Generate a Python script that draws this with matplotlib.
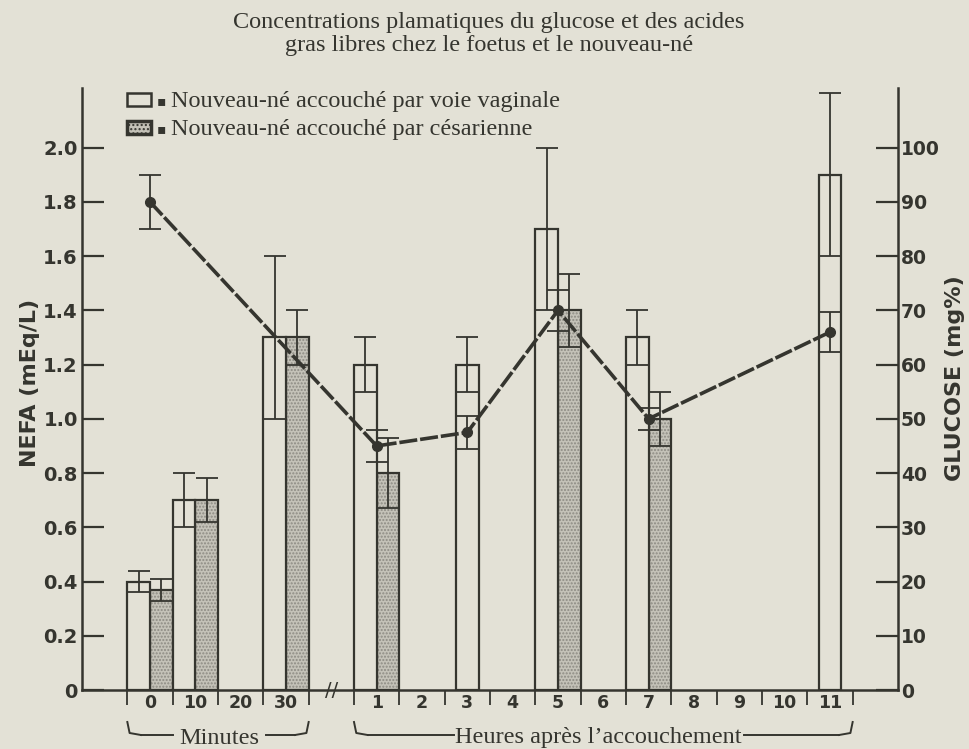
import numpy as np
import matplotlib
matplotlib.use("Agg")
import matplotlib.pyplot as plt
import matplotlib.transforms as mtransforms
from matplotlib.patches import Rectangle

# x slots: minutes first, then hours after delivery
categories = ['0', '10', '20', '30', '1', '2', '3', '4', '5', '6', '7', '8', '9', '10', '11']
n_minutes = 4

nan = np.nan
# NEFA (mEq/L), newborn vaginal delivery
vaginal = [0.40, 0.70, nan, 1.30, 1.20, nan, 1.20, nan, 1.70, nan, 1.30, nan, nan, nan, 1.90]
vaginal_err = [0.04, 0.10, nan, 0.30, 0.10, nan, 0.10, nan, 0.30, nan, 0.10, nan, nan, nan, 0.30]
# NEFA (mEq/L), newborn caesarean
cesar = [0.37, 0.70, nan, 1.30, 0.80, nan, nan, nan, 1.40, nan, 1.00, nan, nan, nan, nan]
cesar_err = [0.04, 0.08, nan, 0.10, 0.13, nan, nan, nan, 0.135, nan, 0.10, nan, nan, nan, nan]
# glucose (mg %)
glucose = [90, nan, nan, nan, 45, nan, 47.5, nan, 70, nan, 50, nan, nan, nan, 66]
glucose_err = [5, nan, nan, nan, 2.9, nan, 3, nan, 3.75, nan, 2, nan, nan, nan, 3.75]

title = "Concentrations plamatiques du glucose et des acides\ngras libres chez le foetus et le nouveau-né"
legend_labels = ["Nouveau-né accouché par voie vaginale", "Nouveau-né accouché par césarienne"]

BG = '#e3e1d6'
INK = '#35352f'
STIPPLE = '#c4c2b8'

W, H = 970, 749
fig = plt.figure(figsize=(W / 100, H / 100), dpi=100, facecolor=BG)
ax = fig.add_axes([82 / W, 1 - 690 / H, (898 - 82) / W, (690 - 88) / H])
ax.set_facecolor(BG)

pos = np.array([i if i < n_minutes else i + 1 for i in range(len(categories))], dtype=float)
vaginal = np.array(vaginal); vaginal_err = np.array(vaginal_err)
cesar = np.array(cesar); cesar_err = np.array(cesar_err)
glucose = np.array(glucose); glucose_err = np.array(glucose_err)

w = 0.5
lw = 1.6
for x, v, ve, c, ce in zip(pos, vaginal, vaginal_err, cesar, cesar_err):
    if np.isnan(v):
        continue
    if np.isnan(c):
        xv = x
    else:
        xv = x - w / 2
        xc = x + w / 2
        ax.bar(xc, c, width=w, color=STIPPLE, hatch='.....', edgecolor='#8d8b83', linewidth=0, zorder=2)
        ax.bar(xc, c, width=w, fill=False, edgecolor=INK, linewidth=lw, zorder=3)
        ax.errorbar(xc, c, yerr=ce, fmt='none', ecolor=INK, elinewidth=1.3, capsize=8, capthick=1.3, zorder=4)
    ax.bar(xv, v, width=w, color=BG, edgecolor=INK, linewidth=lw, zorder=3)
    ax.errorbar(xv, v, yerr=ve, fmt='none', ecolor=INK, elinewidth=1.3, capsize=8, capthick=1.3, zorder=4)

ax.set_xlim(-1.5, 16.5)
ax.set_ylim(0, 2.22)
for s in ['top', 'right']:
    ax.spines[s].set_visible(False)
for s in ['left', 'bottom']:
    ax.spines[s].set_linewidth(1.8)
    ax.spines[s].set_color(INK)

ax.set_yticks(np.arange(0, 2.01, 0.2))
ax.set_yticklabels(['0'] + ['%.1f' % v for v in np.arange(0.2, 2.01, 0.2)])
ax.tick_params(axis='y', direction='in', length=16, width=1.6, color=INK, pad=3,
               labelsize=14, labelcolor=INK)
for t in ax.get_yticklabels():
    t.set_fontweight('bold')

bounds = list(np.arange(-0.5, n_minutes, 1.0)) + list(np.arange(n_minutes + 0.5, pos[-1] + 1, 1.0))
ax.set_xticks(bounds)
ax.set_xticklabels([])
ax.tick_params(axis='x', which='major', direction='out', length=11, width=1.3, color=INK)
ax.set_xticks(pos, categories, minor=True)
ax.tick_params(axis='x', which='minor', length=0, pad=3, labelsize=12.5, labelcolor=INK)
for t in ax.get_xticklabels(minor=True):
    t.set_fontweight('bold')

# glucose on right axis
ax2 = ax.twinx()
ax2.set_ylim(0, 2.22 * 50)
for s in ['top', 'left', 'bottom']:
    ax2.spines[s].set_visible(False)
ax2.spines['right'].set_linewidth(1.8)
ax2.spines['right'].set_color(INK)
ax2.set_yticks(np.arange(0, 101, 10))
ax2.tick_params(axis='y', direction='in', length=16, width=1.6, color=INK, pad=2,
                labelsize=13.5, labelcolor=INK)
for t in ax2.get_yticklabels():
    t.set_fontweight('bold')
ok = ~np.isnan(glucose)
ax2.plot(pos[ok], glucose[ok], color=INK, lw=2.6, ls=(0, (5, 0.8)), marker='o', ms=7,
         zorder=5)
ax2.errorbar(pos[ok], glucose[ok], yerr=glucose_err[ok], fmt='none', ecolor=INK,
             elinewidth=1.3, capsize=8, capthick=1.3, zorder=5)

# axis break
ax.text(4.0, 0, '//', ha='center', va='center', fontsize=14, color=INK,
        fontfamily='DejaVu Sans', zorder=6, clip_on=False)

# brackets under the axis
tr = mtransforms.blended_transform_factory(ax.transData, fig.transFigure)
def fy(px):
    return 1 - px / H

serif = ['Liberation Serif', 'DejaVu Serif']
def bracket(x0, x1, t0, t1, label):
    kw = dict(color=INK, lw=1.4, transform=tr, clip_on=False)
    ax.plot([x0, x0 + 0.05, x0 + 0.3], [fy(722), fy(733), fy(735)], **kw)
    ax.plot([x0 + 0.3, t0], [fy(735), fy(735)], **kw)
    ax.plot([t1, x1 - 0.3], [fy(735), fy(735)], **kw)
    ax.plot([x1 - 0.3, x1 - 0.05, x1], [fy(735), fy(733), fy(722)], **kw)
    ax.text((t0 + t1) / 2, fy(738), label, transform=tr, ha='center', va='center',
            fontsize=17.5, color=INK, fontfamily=serif)

bracket(-0.5, 3.5, 0.5, 2.55, "Minutes")
bracket(4.5, 15.5, 6.7, 13.1, "Heures après l\u2019accouchement")

# title
fig.text(489 / W, fy(34), title, ha='center', va='center', fontsize=17.5, color=INK,
         fontfamily=serif, linespacing=1.1)

# axis labels
fig.text(30 / W, fy(383), "NEFA (mEq/L)", rotation=90, ha='center', va='center',
         fontsize=16, fontweight='bold', color=INK)
fig.text(955 / W, fy(378), "GLUCOSE (mg%)", rotation=90, ha='center', va='center',
         fontsize=16, fontweight='bold', color=INK)

# legend
fig.patches.append(Rectangle((127 / W, fy(106)), 24 / W, 13 / H, transform=fig.transFigure,
                             facecolor=BG, edgecolor=INK, lw=1.8))
fig.patches.append(Rectangle((127 / W, fy(134)), 24 / W, 13 / H, transform=fig.transFigure,
                             facecolor=STIPPLE, hatch='....', edgecolor=INK, lw=2.5))
for i, lab in enumerate(legend_labels):
    y = fy(101 + 28 * i)
    fig.text(157 / W, y, "\u25aa", ha='left', va='center', fontsize=10, color=INK,
             fontfamily='DejaVu Sans')
    fig.text(171 / W, y, lab, ha='left', va='center', fontsize=17.5, color=INK,
             fontfamily=serif)

fig.savefig('out.png', dpi=100, facecolor=BG)
